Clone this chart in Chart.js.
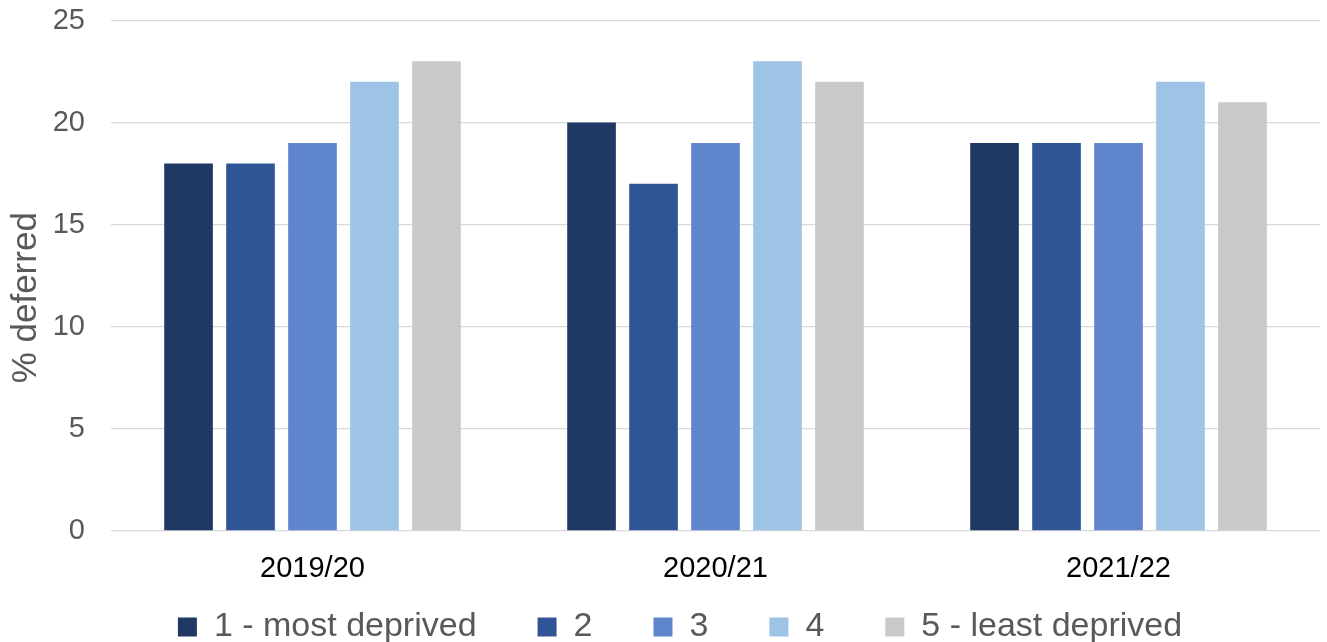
<!DOCTYPE html>
<html>
<head>
<meta charset="utf-8">
<script src="https://cdn.jsdelivr.net/npm/chart.js@4.4.1/dist/chart.umd.min.js"></script>
<style>
  html, body { margin: 0; padding: 0; background: #ffffff; }
  #wrap { width: 1327px; height: 642px; position: relative; }
</style>
</head>
<body>
<div id="wrap"><canvas id="chart"></canvas></div>
<script>
// Deferral rates by deprivation quintile
const categories = ['2019/20', '2020/21', '2021/22'];
const seriesNames = ['1 - most deprived', '2', '3', '4', '5 - least deprived'];
const q1 = [18, 20, 19];
const q2 = [18, 17, 19];
const q3 = [19, 19, 19];
const q4 = [22, 23, 22];
const q5 = [23, 22, 21];
const yTicks = [0, 5, 10, 15, 20, 25];
const yTitle = '% deferred';

const colors = ['#203864', '#2F5597', '#5F86CC', '#9DC3E6', '#C9C9C9'];
const seriesValues = [q1, q2, q3, q4, q5];

const FONT = "'Liberation Sans', Arial, sans-serif";
const LEGEND_GAP = 61;

// Rotated value-axis title, placed beside the tick labels
const yTitlePlugin = {
  id: 'yTitle',
  afterDraw(chart) {
    const { ctx, chartArea } = chart;
    ctx.save();
    ctx.translate(26, (chartArea.top + chartArea.bottom) / 2 + 22);
    ctx.rotate(-Math.PI / 2);
    ctx.font = '35px ' + FONT;
    ctx.fillStyle = '#595959';
    ctx.textAlign = 'center';
    ctx.textBaseline = 'middle';
    ctx.fillText(yTitle, 0, 0);
    ctx.restore();
  }
};

// The legend's item gap is wide; keep its box compact in the layout,
// then reopen it so the row sits just under the category labels.
const legendShift = {
  id: 'legendShift',
  afterLayout(chart) {
    const lg = chart.legend;
    if (!lg) return;
    const dx = 20;
    const rowTop = chart.chartArea.bottom + 79;
    lg.left += dx; lg.right += dx;
    lg.top = rowTop - LEGEND_GAP;
    lg.bottom = chart.height;
    lg.height = lg.bottom - lg.top;
  }
};

new Chart(document.getElementById('chart'), {
  type: 'bar',
  data: {
    labels: categories,
    datasets: seriesNames.map((name, i) => ({
      label: name,
      data: seriesValues[i],
      backgroundColor: colors[i],
      borderWidth: 0,
      barPercentage: 0.785,
      categoryPercentage: 0.769
    }))
  },
  options: {
    responsive: true,
    maintainAspectRatio: false,
    animation: false,
    devicePixelRatio: 1,
    layout: { padding: { left: 0, right: 7, top: 0, bottom: 0 } },
    plugins: {
      tooltip: { enabled: false },
      legend: {
        position: 'bottom',
        maxHeight: 51,
        labels: {
          font: { family: FONT, size: 34 },
          color: '#595959',
          boxWidth: 19,
          boxHeight: 19,
          padding: LEGEND_GAP
        }
      }
    },
    scales: {
      x: {
        grid: { display: false },
        border: { display: false },
        ticks: {
          font: { family: FONT, size: 29 },
          color: '#000000',
          padding: 13,
          maxRotation: 0
        },
        afterFit(scale) { scale.height = 60; }
      },
      y: {
        min: 0,
        max: 25,
        afterBuildTicks(scale) { scale.ticks = yTicks.map(v => ({ value: v })); },
        grid: { color: '#D9D9D9', lineWidth: 1.3, drawTicks: false },
        border: { display: false },
        ticks: {
          font: { family: FONT, size: 29 },
          color: '#595959',
          padding: 26
        },
        afterFit(scale) {
          scale.width = 111;
          scale.paddingTop = 20.5;
          scale.paddingBottom = 0;
        }
      }
    }
  },
  plugins: [yTitlePlugin, legendShift]
});
</script>
</body>
</html>
